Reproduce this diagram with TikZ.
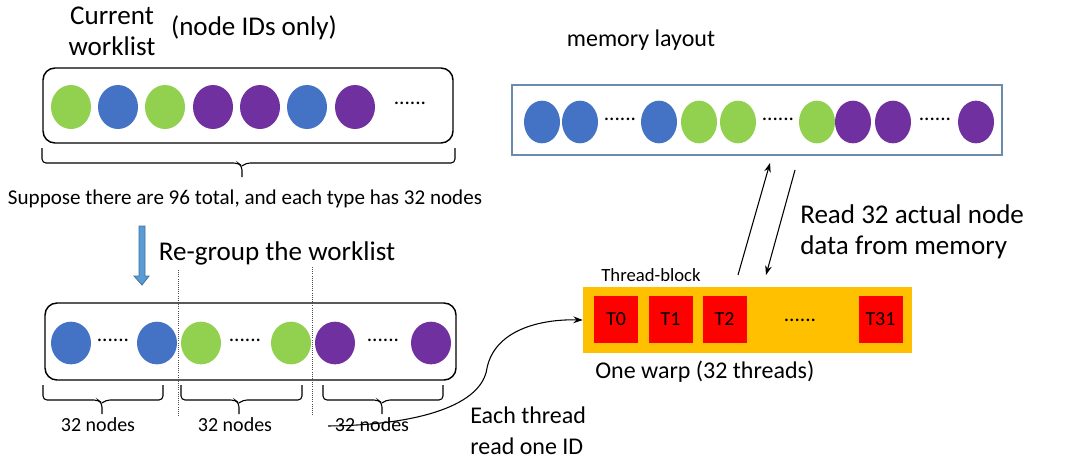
\documentclass[tikz,border=0pt]{standalone}
\usepackage{fontspec}
\setmainfont{Carlito}
\usetikzlibrary{shapes.geometric,arrows.meta}
\definecolor{ngreen}{HTML}{92D050}
\definecolor{nblue}{HTML}{4472C4}
\definecolor{npurple}{HTML}{7030A0}
\definecolor{arrowfill}{HTML}{5B9BD5}
\definecolor{arrowline}{HTML}{41719C}
\definecolor{memline}{HTML}{6A8BAA}
\definecolor{warp}{HTML}{FFC000}
\definecolor{thread}{HTML}{FF0000}
\newcommand{\bigfont}{\fontsize{20.3}{23.5}\selectfont}
\newcommand{\medfont}{\fontsize{18}{23.5}\selectfont}
\newcommand{\midfont}{\fontsize{15}{18}\selectfont}
% curly brace opening downwards: left x, right x, tip x, top y
\newcommand{\downbrace}[4]{%
  \draw[line width=0.8pt, rounded corners=3] (#1,#4) -- (#1,#4+15) -- (#3-4,#4+15) -- (#3,#4+18) -- (#3,#4+29);
  \draw[line width=0.8pt, rounded corners=3] (#2,#4) -- (#2,#4+15) -- (#3+4,#4+15) -- (#3,#4+18);
}
\tikzset{
  x=0.75pt, y=-0.75pt,
  item/.style={ellipse, minimum width=30pt, minimum height=33pt, inner sep=0pt},
  memitem/.style={ellipse, minimum width=27pt, minimum height=32pt, inner sep=0pt},
  g/.style={fill=ngreen}, b/.style={fill=nblue}, p/.style={fill=npurple},
  listbox/.style={draw, line width=1.1pt, rounded corners=9pt, inner sep=0pt},
  dots/.style={font=\fontsize{16}{16}\selectfont, inner sep=0pt},
  label/.style={font=\bigfont, inner sep=0pt, align=left},
  mlabel/.style={font=\medfont, inner sep=0pt, align=left},
  small/.style={font=\midfont, inner sep=0pt},
  tbox/.style={fill=thread, minimum width=33pt, minimum height=35.25pt, inner sep=0pt, font=\midfont},
  flow/.style={line width=0.8pt, -{Stealth[length=7pt,width=5pt]}},
}
\begin{document}
\begin{tikzpicture}
\useasboundingbox (0,0) rectangle (1069,464);

% ---------- current worklist ----------
\node[label, align=center] (cur) at (112,31) {Current\\worklist};
\node[label] (ids) at (254,28) {(node IDs only)};
\node[listbox, minimum width=307.5pt, minimum height=56.25pt] (wl) at (248,105.5) {};
\foreach \x/\c [count=\i] in {71/g,118/b,165/g,213/p,260/p,307/b,355/p}
  \node[item,\c] (w\i) at (\x,107) {};
\node[dots] (wdots) at (410,103) {......};

\downbrace{42}{455}{242}{148}
\node[small, font=\fontsize{15.8}{18}\selectfont] (sup) at (245,199) {Suppose there are 96 total, and each type has 32 nodes};

% ---------- re-group step ----------
\draw[fill=arrowfill, draw=arrowline, line width=0.6pt]
  (139,226) -- (145,226) -- (145,276) -- (149,276) -- (142,285) -- (134,276) -- (139,276) -- cycle;
\node[label] (rg) at (277,253) {Re-group the worklist};

\node[listbox, minimum width=308.25pt, minimum height=57.75pt] (gl) at (250.5,341.5) {};
\foreach \x/\c [count=\i] in {71/b,157/b,201/g,291/g,335/p,431/p}
  \node[item,\c, minimum height=32pt] (r\i) at (\x,343) {};
\node[dots] (rd1) at (113,340) {......};
\node[dots] (rd2) at (245,340) {......};
\node[dots] (rd3) at (383,340) {......};

\draw[densely dotted, gray!60!black, line width=0.6pt] (178,270) -- (178,417);
\draw[densely dotted, gray!60!black, line width=0.6pt] (312,267) -- (312,415);

\downbrace{43}{163}{102}{385}
\downbrace{181}{302}{239}{385}
\downbrace{323}{443}{382}{385}
\node[small] (n1) at (98,425) {32 nodes};
\node[small] (n2) at (235,425) {32 nodes};
\node[small] (n3) at (372,425) {32 nodes};

% ---------- memory layout ----------
\node[mlabel] (ml) at (641,40) {memory layout};
\node[draw=memline, line width=1.1pt, minimum width=367.5pt, minimum height=52.5pt, inner sep=0pt] (mem) at (757,120) {};
\foreach \x/\c [count=\i] in {542/b,580/b,659/b,699/g,738/g,817/g,853/p,893/p,976/p}
  \node[memitem,\c] (m\i) at (\x,122) {};
\node[dots] (md1) at (620,119) {......};
\node[dots] (md2) at (778,119) {......};
\node[dots] (md3) at (935,119) {......};

% ---------- thread block ----------
\node[small, font=\fontsize{14}{16}\selectfont] (tbl) at (651,275) {Thread-block};
\node[fill=warp, minimum width=246.75pt, minimum height=49.5pt, inner sep=0pt] (tb) at (747.5,320) {};
\node[tbox] (t0) at (616,319.5) {T0};
\node[tbox] (t1) at (670.5,319.5) {T1};
\node[tbox] (t2) at (724.5,319.5) {T2};
\node[tbox] (t31) at (880.5,319.5) {T31};
\node[dots] (tdots) at (800,320) {......};
\node[mlabel, anchor=west] (warp) at (595,372) {One warp (32 threads)};

% memory traffic
\coordinate (up0) at (738,275);
\coordinate (up1) at (770,163);
\coordinate (dn0) at (795,170);
\coordinate (dn1) at (766,275);
\draw[flow] (up0) -- (up1);
\draw[flow] (dn0) -- (dn1);
\node[label, anchor=west] (rd) at (800,232) {Read 32 actual node\\data from memory};

% each thread reads one ID
\coordinate (idsrc) at (328,426);
\draw[flow] (idsrc) .. controls (420,425) and (482,405) .. (487,368)
  .. controls (495,330) and (540,319) .. (tb.west);
\node[mlabel, anchor=west] (each) at (470,431) {Each thread\\read one ID};
\end{tikzpicture}
\end{document}
